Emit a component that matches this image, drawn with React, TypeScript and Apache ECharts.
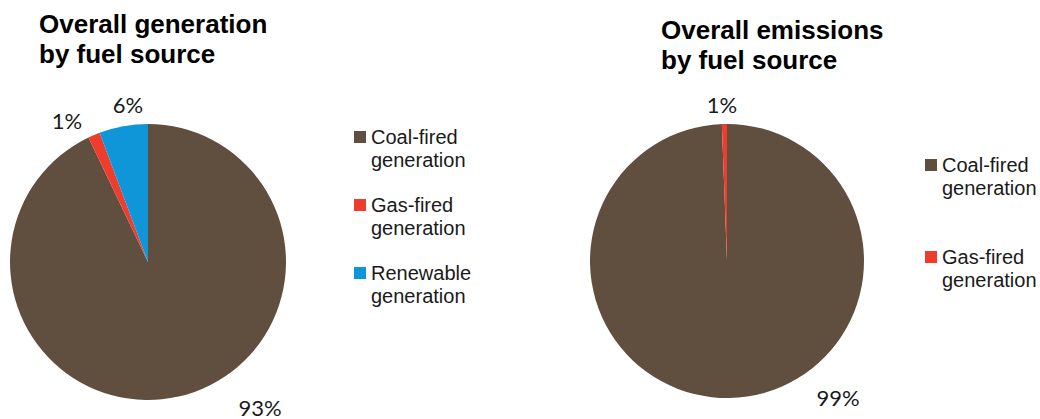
import React, { useEffect, useRef } from "react";
import * as echarts from "echarts";

// Share of generation and of emissions, by fuel source (%)
const generationNames = ["Coal-fired generation", "Gas-fired generation", "Renewable generation"];
const generationValues = [92.9, 1.4, 5.7];

const emissionNames = ["Coal-fired generation", "Gas-fired generation"];
const emissionValues = [99.4, 0.6];

const sliceColors: Record<string, string> = {
  "Coal-fired generation": "#604f3f",
  "Gas-fired generation": "#ef3d2d",
  "Renewable generation": "#0e96d9",
};

// Where each percentage label sits (label centres, px)
const generationLabelPos = [
  [260, 407],
  [67, 120],
  [128, 104],
];
const emissionLabelPos = [
  [838, 397],
  [722, 104],
];

const LABEL_FONT = "Lato, 'Open Sans', sans-serif";
const TEXT_FONT = "'Liberation Sans', Arial, sans-serif";

// One legend entry; the leading blank line lifts the two text lines so the
// swatch sits beside the first one.
function legendItem(name: string, left: number, iconCenterY: number) {
  return {
    data: [name],
    orient: "vertical" as const,
    left,
    top: iconCenterY - 34.5,
    padding: 0,
    icon: "rect",
    itemWidth: 12,
    itemHeight: 12,
    selectedMode: false,
    formatter: (n: string) => "\n" + n.replace(" ", "\n"),
    textStyle: {
      fontFamily: TEXT_FONT,
      fontSize: 20,
      lineHeight: 23,
      color: "#1a1a1a",
    },
  };
}

function pieSeries(
  names: string[],
  values: number[],
  center: [number, number],
  radius: number,
  labelPos: number[][]
) {
  return {
    type: "pie" as const,
    center,
    radius,
    startAngle: 90,
    clockwise: true,
    avoidLabelOverlap: false,
    silent: true,
    emphasis: { disabled: true },
    data: names.map((n, i) => ({
      name: n,
      value: values[i],
      itemStyle: { color: sliceColors[n] },
    })),
    itemStyle: { borderWidth: 0 },
    label: {
      show: true,
      position: "outside" as const,
      formatter: (p: any) => `${Math.round(p.percent)}%`,
      fontFamily: LABEL_FONT,
      fontSize: 22,
      color: "#1a1a1a",
    },
    labelLine: { show: false },
    labelLayout: (params: any) => {
      const pos = labelPos[params.dataIndex];
      return { x: pos[0], y: pos[1], align: "center", verticalAlign: "middle" };
    },
  };
}

export default function App() {
  const ref = useRef<HTMLDivElement>(null);

  useEffect(() => {
    document.body.style.margin = "0";
    if (!ref.current) return;
    const chart = echarts.init(ref.current, null, { renderer: "svg" });
    chart.setOption({
      animation: false,
      backgroundColor: "#ffffff",
      title: [
        {
          text: "Overall generation\nby fuel source",
          left: 39,
          top: 9,
          padding: 0,
          textStyle: {
            fontFamily: TEXT_FONT,
            fontSize: 26,
            fontWeight: "bold",
            lineHeight: 30,
            color: "#000000",
          },
        },
        {
          text: "Overall emissions\nby fuel source",
          left: 661,
          top: 15,
          padding: 0,
          textStyle: {
            fontFamily: TEXT_FONT,
            fontSize: 26,
            fontWeight: "bold",
            lineHeight: 30,
            color: "#000000",
          },
        },
      ],
      legend: [
        legendItem(generationNames[0], 354, 137),
        legendItem(generationNames[1], 354, 205),
        legendItem(generationNames[2], 354, 273),
        legendItem(emissionNames[0], 925, 165),
        legendItem(emissionNames[1], 925, 257),
      ],
      series: [
        pieSeries(generationNames, generationValues, [148, 262], 138, generationLabelPos),
        pieSeries(emissionNames, emissionValues, [727, 261], 137, emissionLabelPos),
      ],
    });
    return () => chart.dispose();
  }, []);

  return <div ref={ref} style={{ width: 1040, height: 419 }} />;
}
